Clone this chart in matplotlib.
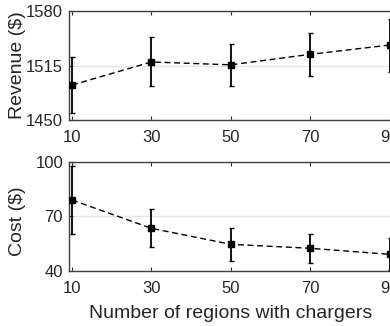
import matplotlib
matplotlib.use("Agg")
import matplotlib.pyplot as plt

x = [10, 30, 50, 70, 90]
revenue = [1491.7, 1519.2, 1515.8, 1528.3, 1539.4]
revenue_err = [33.8, 29.2, 25.0, 25.6, 31.6]
cost = [79.1, 63.5, 54.7, 52.5, 49.2]
cost_err = [18.8, 10.5, 9.0, 8.0, 8.8]
xticks = [10, 30, 50, 70, 90]
rev_ticks = [1450, 1515, 1580]
cost_ticks = [40, 70, 100]

plt.rcParams['font.family'] = ['Liberation Sans', 'DejaVu Sans']
tc = '#262626'

fig = plt.figure(figsize=(3.9, 3.26), dpi=100)
W, H = 390, 326
left = 69 / W
width = 324.5 / W
ax1 = fig.add_axes([left, (H - 120) / H, width, 109 / H])
ax2 = fig.add_axes([left, (H - 271) / H, width, 109 / H])

def style(ax, y, e, yt, ylab):
    ax.errorbar(x, y, yerr=e, color='black', ls='--', lw=1.0, marker='s',
                ms=5, capsize=1.8, elinewidth=1.3, capthick=1.0, dashes=(4.3, 2.6), zorder=3)
    ax.set_xlim(9.25, 91)
    ax.set_ylim(yt[0], yt[-1])
    ax.set_xticks(xticks)
    ax.set_yticks(yt)
    ax.tick_params(direction='in', length=3, width=0.8, colors=tc, labelsize=12,
                   top=True, right=True, labelcolor=tc)
    ax.tick_params(axis='x', pad=7.5)
    ax.tick_params(axis='y', pad=4.3)
    ax.grid(axis='y', color='#e6e6e6', lw=1.0, zorder=0)
    ax.set_axisbelow(True)
    for s in ax.spines.values():
        s.set_color('#404040')
        s.set_linewidth(1.0)
    ax.set_ylabel(ylab, fontsize=14, color=tc)

style(ax1, revenue, revenue_err, rev_ticks, 'Revenue ($)')
style(ax2, cost, cost_err, cost_ticks, 'Cost ($)')
ax1.yaxis.set_label_coords((26 - 69) / 324.5, 0.5)
ax2.yaxis.set_label_coords((26 - 69) / 324.5, 0.454)
fig.text((69 + (50 - 9.25) / 81.75 * 324.5) / W, 7.7 / H,
         'Number of regions with chargers', fontsize=14, color=tc,
         ha='center', va='baseline')

fig.savefig('out.png', dpi=100)
